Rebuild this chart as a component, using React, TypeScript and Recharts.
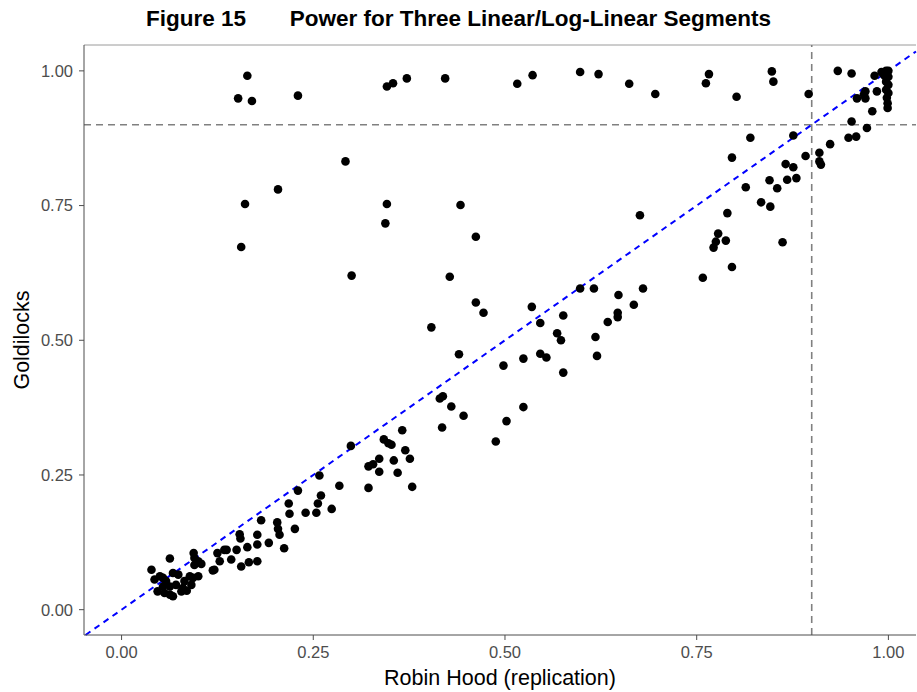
import React from 'react';
import {
  ScatterChart,
  Scatter,
  XAxis,
  YAxis,
  ReferenceLine
} from 'recharts';

// [Robin Hood (replication), Goldilocks] power pairs
const upperBand: [number, number][] = [
  [0.152, 0.949], [0.164, 0.991], [0.170, 0.944], [0.230, 0.954],
  [0.346, 0.971], [0.354, 0.977], [0.372, 0.986], [0.422, 0.986],
  [0.516, 0.976], [0.536, 0.992], [0.598, 0.998], [0.622, 0.994],
  [0.662, 0.976], [0.696, 0.957], [0.762, 0.977], [0.766, 0.994],
  [0.802, 0.952], [0.848, 0.999], [0.850, 0.980], [0.896, 0.957],
  [0.934, 1.000], [0.952, 0.995], [0.982, 0.991], [0.985, 0.962],
  [0.970, 0.962], [0.968, 0.956], [0.959, 0.949], [0.970, 0.949],
  [0.979, 0.925], [0.952, 0.906], [0.972, 0.894],
];

const cornerColumn: [number, number][] = [
  [0.997, 1.000], [1.000, 1.000], [0.995, 0.991], [1.000, 0.989],
  [0.997, 0.980], [1.000, 0.974], [0.997, 0.965], [1.000, 0.959],
  [0.998, 0.950], [0.999, 0.940], [0.999, 0.931], [0.991, 0.998],
  [0.993, 0.995],
];

const outliers: [number, number][] = [
  [0.292, 0.832], [0.204, 0.780], [0.161, 0.753], [0.346, 0.753],
  [0.442, 0.751], [0.344, 0.717], [0.462, 0.692], [0.156, 0.673],
  [0.300, 0.620], [0.428, 0.618], [0.462, 0.570], [0.472, 0.551],
  [0.404, 0.524], [0.440, 0.474],
];

const upperDiagonal: [number, number][] = [
  [0.948, 0.876], [0.958, 0.878], [0.924, 0.864], [0.820, 0.876],
  [0.876, 0.880], [0.892, 0.842], [0.910, 0.848], [0.910, 0.832],
  [0.912, 0.826], [0.796, 0.839], [0.866, 0.827], [0.876, 0.821],
  [0.845, 0.797], [0.868, 0.798], [0.880, 0.801], [0.814, 0.784],
  [0.855, 0.782], [0.834, 0.756], [0.846, 0.748], [0.790, 0.736],
  [0.676, 0.732], [0.778, 0.698], [0.775, 0.683], [0.772, 0.672],
  [0.788, 0.685], [0.862, 0.682], [0.796, 0.636], [0.758, 0.616],
];

const midDiagonal: [number, number][] = [
  [0.648, 0.584], [0.680, 0.596], [0.668, 0.566], [0.647, 0.551],
  [0.647, 0.543], [0.634, 0.534], [0.598, 0.596], [0.616, 0.596],
  [0.618, 0.506], [0.620, 0.471], [0.546, 0.532], [0.576, 0.546],
  [0.568, 0.513], [0.573, 0.500], [0.535, 0.562], [0.498, 0.453],
  [0.524, 0.466], [0.546, 0.475], [0.554, 0.468], [0.576, 0.440],
  [0.415, 0.392], [0.419, 0.396], [0.430, 0.377], [0.446, 0.360],
  [0.418, 0.338], [0.524, 0.376], [0.502, 0.350], [0.488, 0.312],
];

const lowerDiagonal: [number, number][] = [
  [0.299, 0.304], [0.366, 0.333], [0.342, 0.316], [0.348, 0.309],
  [0.352, 0.306], [0.370, 0.296], [0.376, 0.280], [0.336, 0.280],
  [0.322, 0.266], [0.328, 0.270], [0.355, 0.277], [0.336, 0.256],
  [0.360, 0.254], [0.258, 0.249], [0.284, 0.230], [0.322, 0.226],
  [0.379, 0.228], [0.260, 0.212], [0.230, 0.221], [0.256, 0.197],
  [0.274, 0.187], [0.218, 0.197], [0.219, 0.178], [0.240, 0.180],
  [0.254, 0.180], [0.226, 0.150], [0.182, 0.166], [0.203, 0.162],
  [0.204, 0.150], [0.206, 0.139], [0.192, 0.124], [0.212, 0.114],
  [0.177, 0.139], [0.177, 0.121], [0.164, 0.116], [0.154, 0.140],
  [0.155, 0.132], [0.150, 0.111], [0.137, 0.111], [0.125, 0.105],
  [0.128, 0.090], [0.121, 0.074], [0.119, 0.073], [0.143, 0.093],
  [0.156, 0.080], [0.166, 0.088], [0.177, 0.090], [0.104, 0.085],
  [0.094, 0.105], [0.095, 0.096], [0.134, 0.111],
];

const nearZero: [number, number][] = [
  [0.063, 0.095], [0.039, 0.074], [0.100, 0.090], [0.095, 0.083],
  [0.043, 0.056], [0.054, 0.059], [0.067, 0.068], [0.074, 0.065],
  [0.047, 0.034], [0.056, 0.031], [0.063, 0.028], [0.067, 0.025],
  [0.078, 0.034], [0.071, 0.046], [0.063, 0.043], [0.054, 0.043],
  [0.082, 0.053], [0.089, 0.062], [0.093, 0.059], [0.100, 0.062],
  [0.091, 0.046], [0.080, 0.040], [0.058, 0.053], [0.050, 0.062],
  [0.085, 0.035],
];

const ticks = [0, 0.25, 0.5, 0.75, 1];
const xDomain: [number, number] = [-0.049, 1.036];
const yDomain: [number, number] = [-0.047, 1.048];
const threshold = 0.9;

const points = [
  ...upperBand, ...cornerColumn, ...outliers, ...upperDiagonal,
  ...midDiagonal, ...lowerDiagonal, ...nearZero,
].map(([x, y]) => ({ x, y }));

const Dot = (props: any) => <circle cx={props.cx} cy={props.cy} r={4.3} fill="#000" />;

const labelFont = 'Liberation Sans, Arial, sans-serif';
const tickStyle = { fontSize: 16.5, fill: '#4d4d4d', fontFamily: labelFont };

export default function App() {
  return (
    <div style={{ position: 'absolute', left: 0, top: 0, width: 917, height: 692, background: '#fff' }}>
      <div style={{
        position: 'absolute', top: 6, left: 0, width: 917, textAlign: 'center',
        fontFamily: labelFont, fontWeight: 'bold', fontSize: 22.5, color: '#000', whiteSpace: 'pre'
      }}>
        {'Figure 15       Power for Three Linear/Log-Linear Segments'}
      </div>
      <ScatterChart width={917} height={692} margin={{ top: 45, right: 1, bottom: 0, left: 0 }}>
        <XAxis
          type="number"
          dataKey="x"
          domain={xDomain}
          ticks={ticks}
          allowDataOverflow
          height={57}
          tickFormatter={(v: number) => v.toFixed(2)}
          tick={tickStyle}
          tickSize={5}
          tickMargin={6}
          stroke="#4d4d4d"
        />
        <YAxis
          type="number"
          dataKey="y"
          domain={yDomain}
          ticks={ticks}
          allowDataOverflow
          width={84}
          tickFormatter={(v: number) => v.toFixed(2)}
          tick={tickStyle}
          tickSize={5}
          tickMargin={6}
          stroke="#4d4d4d"
        />
        <ReferenceLine y={yDomain[1]} stroke="#9a9a9a" strokeWidth={1} />
        <ReferenceLine y={threshold} stroke="#808080" strokeWidth={1.6} strokeDasharray="7 5" />
        <ReferenceLine x={threshold} stroke="#808080" strokeWidth={1.6} strokeDasharray="7 5" />
        <ReferenceLine
          segment={[{ x: -0.047, y: -0.047 }, { x: 1.036, y: 1.036 }]}
          stroke="#0000ff"
          strokeWidth={2}
          strokeDasharray="6 5"
        />
        <Scatter data={points} shape={Dot} isAnimationActive={false} />
      </ScatterChart>
      <div style={{
        position: 'absolute', top: 666, left: 84, width: 832, textAlign: 'center',
        fontFamily: labelFont, fontSize: 21.5, color: '#000'
      }}>
        Robin Hood (replication)
      </div>
      <div style={{
        position: 'absolute', left: 22, top: 340, transform: 'translate(-50%, -50%) rotate(-90deg)',
        fontFamily: labelFont, fontSize: 21.5, color: '#000', whiteSpace: 'nowrap'
      }}>
        Goldilocks
      </div>
    </div>
  );
}
